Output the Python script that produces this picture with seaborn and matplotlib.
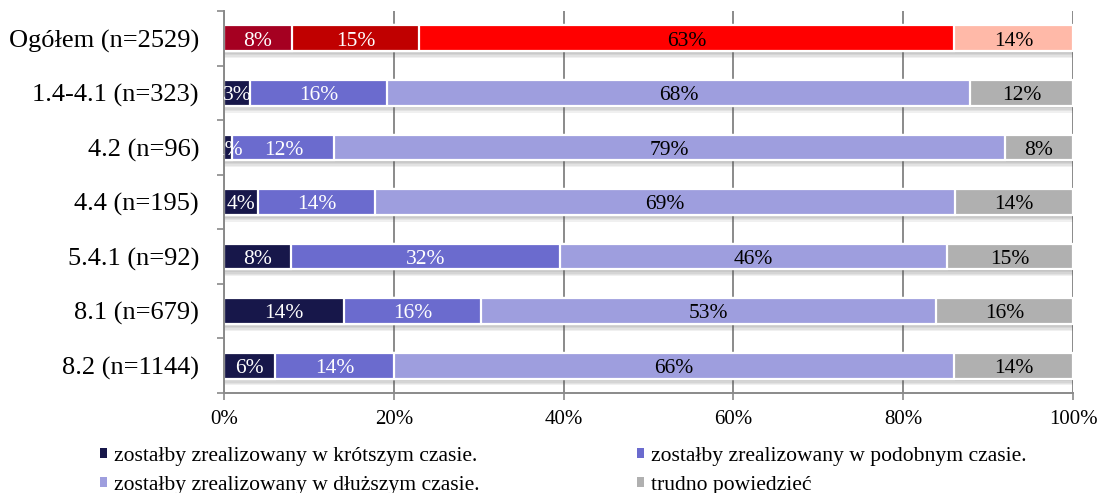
import numpy as np
import pandas as pd
import matplotlib
matplotlib.use("Agg")
import matplotlib.pyplot as plt
import matplotlib.patheffects as pe
from matplotlib.patches import Patch
from matplotlib.ticker import FixedLocator, PercentFormatter
import seaborn as sns

# --- data -------------------------------------------------------------
categories = ["Ogółem (n=2529)", "1.4-4.1 (n=323)", "4.2 (n=96)", "4.4 (n=195)",
              "5.4.1 (n=92)", "8.1 (n=679)", "8.2 (n=1144)"]
shorter = [8, 3, 1, 4, 8, 14, 6]
similar = [15, 16, 12, 14, 32, 16, 14]
longer = [63, 68, 79, 69, 46, 53, 66]
hard_to_say = [14, 12, 8, 14, 15, 16, 14]
series_names = ["zostałby zrealizowany w krótszym czasie.",
                "zostałby zrealizowany w podobnym czasie.",
                "zostałby zrealizowany w dłuższym czasie.",
                "trudno powiedzieć"]
x_ticks = [0, 20, 40, 60, 80, 100]

# --- styling ----------------------------------------------------------
sns.set_theme(style="white")
plt.rcParams["font.family"] = ["Liberation Serif", "DejaVu Serif"]
plt.rcParams["text.color"] = "black"
plt.rcParams["xtick.labelcolor"] = "black"
plt.rcParams["ytick.labelcolor"] = "black"

blues = ["#17174A", "#6B6BCE", "#9E9EDE", "#B0B0B0"]
reds = ["#A50021", "#C00000", "#FF0000", "#FFB9A8"]
label_colors = ["white", "white", "black", "black"]

values = np.array([shorter, similar, longer, hard_to_say], dtype=float)
shares = values / values.sum(axis=0) * 100          # 100 % stacked
cumulative = np.cumsum(shares, axis=0)

fig = plt.figure(figsize=(10.97, 4.93), dpi=100)
ax = fig.add_axes([224 / 1097, 1 - 393 / 493, (1073 - 224) / 1097, (393 - 11) / 493])

bar_h = 0.47
# draw cumulative bars from the longest one down so each segment shows
for k in range(3, -1, -1):
    df = pd.DataFrame({"cat": categories, "end": cumulative[k]})
    palette = [reds[k]] + [blues[k]] * (len(categories) - 1)
    n_before = len(ax.patches)
    sns.barplot(data=df, x="end", y="cat", hue="cat", palette=palette,
                legend=False, orient="h", width=bar_h, edgecolor="white",
                linewidth=1.6, saturation=1, ax=ax)
    if k == 3:
        shadow = [pe.SimplePatchShadow(offset=(0.5, -d), shadow_rgbFace="0.35",
                                       alpha=0.09) for d in (1, 2, 3, 4, 5)]
        for p in ax.patches[n_before:]:
            p.set_path_effects(shadow + [pe.Normal()])

# segment labels
for k in range(4):
    starts = cumulative[k] - shares[k]
    for i, cat in enumerate(categories):
        xc = starts[i] + shares[k][i] / 2
        ax.text(xc, i + 0.05, f"{int(values[k][i])}%", ha="center", va="center",
                color=label_colors[k], fontsize=15.5, zorder=5)

# axes
ax.set_xlim(0, 100)
ax.set_ylim(len(categories) - 0.5, -0.5)
ax.set_xlabel("")
ax.set_ylabel("")
ax.xaxis.set_major_locator(FixedLocator(x_ticks))
ax.xaxis.set_major_formatter(PercentFormatter(decimals=0))
ax.xaxis.grid(True, color="#8a8a8a", linewidth=1.4)
ax.yaxis.grid(False)
ax.set_axisbelow(True)
for side in ["top", "right"]:
    ax.spines[side].set_visible(False)
for side in ["left", "bottom"]:
    ax.spines[side].set_color("#8a8a8a")
    ax.spines[side].set_linewidth(1.4)

ax.tick_params(axis="x", length=5, width=1.2, color="#8a8a8a", pad=7,
               labelsize=15, labelcolor="black", direction="out", bottom=True)
ax.tick_params(axis="y", length=0, pad=18, labelsize=19, labelcolor="black")
ax.yaxis.set_minor_locator(FixedLocator(np.arange(-0.5, len(categories), 1.0)))
ax.tick_params(axis="y", which="minor", length=5, width=1.2, color="#8a8a8a",
               direction="out", left=True)

# legend
handles = [Patch(facecolor=c, edgecolor="none") for c in blues]
order = [0, 2, 1, 3]
leg = fig.legend([handles[i] for i in order], [series_names[i] for i in order],
                 ncol=2, loc="upper left", bbox_to_anchor=(100 / 1097, 1 - 447 / 493),
                 frameon=False, fontsize=15.6, handlelength=0.33, handleheight=0.33,
                 handletextpad=0.3, columnspacing=7.3, labelspacing=0.45,
                 borderpad=0, borderaxespad=0)
for t in leg.get_texts():
    t.set_color("black")

fig.savefig("out.png", dpi=100)
